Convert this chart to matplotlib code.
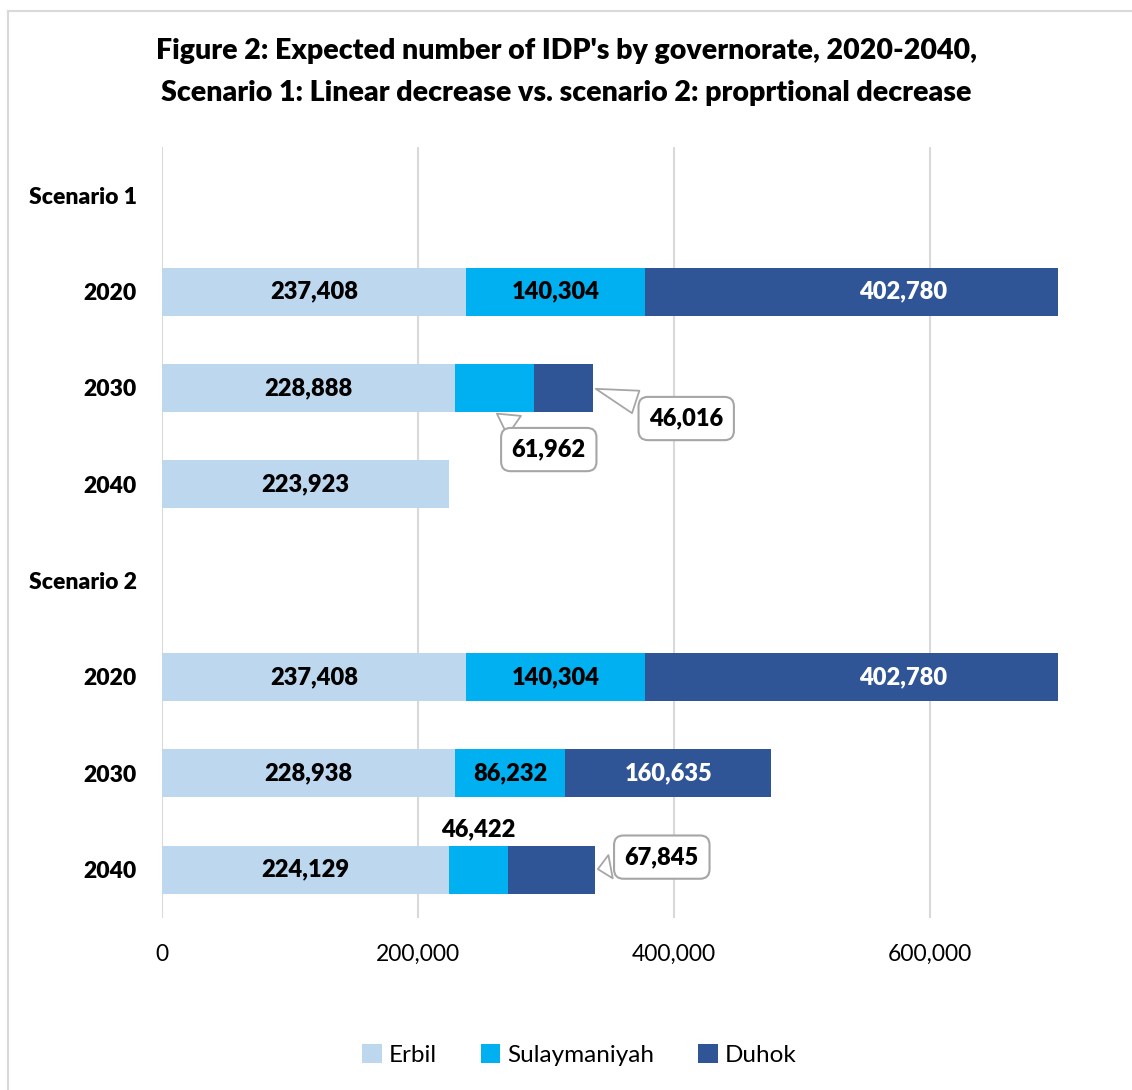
import numpy as np
import matplotlib.pyplot as plt
from matplotlib.patches import Patch
from matplotlib.lines import Line2D

plt.rcParams['font.family'] = ['Lato', 'DejaVu Sans']

# данные
rows = ["Scenario 1", "2020", "2030", "2040", "Scenario 2", "2020", "2030", "2040"]
erbil = [0, 237408, 228888, 223923, 0, 237408, 228938, 224129]
sulay = [0, 140304, 61962, 0, 0, 140304, 86232, 46422]
duhok = [0, 402780, 46016, 0, 0, 402780, 160635, 67845]
series = ["Erbil", "Sulaymaniyah", "Duhok"]
colors = ["#BDD7EE", "#00B0F0", "#2F5597"]
xticks = [0, 200000, 400000, 600000]

W = 'heavy'  # жирность
FS = 17
fig = plt.figure(figsize=(11.32, 10.9), dpi=100)
ax = fig.add_axes([0.1431, 0.158, 0.7915, 0.707])

y = np.arange(len(rows))
vals = [erbil, sulay, duhok]
left = np.zeros(len(rows))
segs = []
for s, v, c in zip(series, vals, colors):
    v = np.array(v, dtype=float)
    ax.barh(y, v, left=left, height=0.5, color=c, zorder=2)
    segs.append((left.copy(), v))
    left = left + v

ax.set_xlim(0, 700000)
ax.set_ylim(len(rows) - 0.5, -0.5)
ax.set_yticks(y)
ax.set_yticklabels(rows, fontsize=16.5, fontweight=W)
ax.set_xticks(xticks)
ax.set_xticklabels([f"{t:,}" for t in xticks], fontsize=16.5)
ax.tick_params(axis='both', length=0)
ax.tick_params(axis='x', pad=19)
ax.tick_params(axis='y', pad=18)
ax.grid(axis='x', color='#D9D9D9', linewidth=1.5, zorder=0)
for sp in ax.spines.values():
    sp.set_visible(False)

# подписи внутри сегментов
inside = {0: [1, 2, 3, 5, 6, 7], 1: [1, 5, 6], 2: [1, 5, 6]}
for k, idx in inside.items():
    l, v = segs[k]
    tc = 'white' if k == 2 else 'black'
    for i in idx:
        ax.text(l[i] + v[i] / 2, y[i], f"{int(v[i]):,}", ha='center', va='center',
                fontsize=FS, fontweight=W, color=tc, zorder=3, clip_on=False)

box = dict(boxstyle='round,pad=0.45,rounding_size=0.4', fc='white', ec='#A6A6A6', lw=1.5)
wedge = dict(arrowstyle='wedge,tail_width=1.0,shrink_factor=0.5', fc='white', ec='#A6A6A6', lw=1.3)

# выноски
l, v = segs[2]
ax.annotate(f"{int(v[2]):,}", xy=(l[2] + v[2], y[2]), xytext=(67, -22), textcoords='offset points',
            ha='center', va='center', fontsize=FS, fontweight=W, bbox=box, arrowprops=wedge, zorder=4)
ax.annotate(f"{int(v[7]):,}", xy=(l[7] + v[7], y[7]), xytext=(48, 9), textcoords='offset points',
            ha='center', va='center', fontsize=FS, fontweight=W, bbox=box, arrowprops=wedge, zorder=4)
l, v = segs[1]
ax.annotate(f"{int(v[2]):,}", xy=(l[2] + v[2] / 2, y[2] + 0.25), xytext=(39, -27), textcoords='offset points',
            ha='center', va='center', fontsize=FS, fontweight=W, bbox=box, arrowprops=wedge, zorder=4)
ax.annotate(f"{int(v[7]):,}", xy=(l[7] + v[7] / 2, y[7] - 0.25), xytext=(0, 12), textcoords='offset points',
            ha='center', va='center', fontsize=FS, fontweight=W, zorder=4)

fig.suptitle("Figure 2: Expected number of IDP's by governorate, 2020-2040,\n"
             "Scenario 1: Linear decrease vs. scenario 2: proprtional decrease",
             y=0.965, fontsize=20.5, fontweight=W, linespacing=1.75)

handles = [Patch(facecolor=c) for c in colors]
fig.legend(handles, series, loc='center', bbox_to_anchor=(0.512, 0.032), ncol=3, frameon=False,
           fontsize=17.5, handlelength=0.8, handleheight=0.8, handletextpad=0.3, columnspacing=1.8)

# рамка
fig.add_artist(Line2D([8 / 1132, 1], [1 - 11 / 1090, 1 - 11 / 1090], color='#D9D9D9', lw=1.5))
fig.add_artist(Line2D([8 / 1132, 8 / 1132], [0, 1 - 11 / 1090], color='#D9D9D9', lw=1.5))

fig.savefig("out.png")
